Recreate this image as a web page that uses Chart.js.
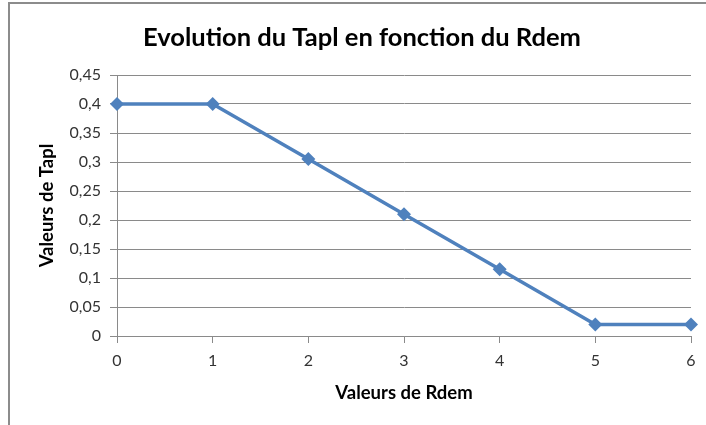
<!DOCTYPE html>
<html>
<head>
<meta charset="utf-8">
<script src="https://cdn.jsdelivr.net/npm/chart.js@4/dist/chart.umd.min.js"></script>
<style>
html,body{margin:0;padding:0;background:#fff;overflow:hidden;}
#wrap{position:relative;width:706px;height:425px;overflow:hidden;}
#frame{position:absolute;left:8px;top:2px;width:740px;height:460px;border-top:2px solid #8c8c8c;border-left:2px solid #8c8c8c;}
canvas{position:absolute;left:0;top:0;}
</style>
</head>
<body>
<div id="wrap">
<div id="frame"></div>
<canvas id="c" width="706" height="425"></canvas>
</div>
<script>
const chartTitle = "Evolution du Tapl en fonction du Rdem";
const xAxisTitle = "Valeurs de Rdem";
const yAxisTitle = "Valeurs de Tapl";
const rdemValues = [0, 1, 2, 3, 4, 5, 6];
const taplValues = [0.4, 0.4, 0.305, 0.21, 0.115, 0.02, 0.02];
const yTickValues = [0, 0.05, 0.1, 0.15, 0.2, 0.25, 0.3, 0.35, 0.4, 0.45];
const xTickValues = [0, 1, 2, 3, 4, 5, 6];

const points = rdemValues.map((x, i) => ({x: x, y: taplValues[i]}));
const fmt = v => String(Math.round(v * 100) / 100).replace('.', ',');
const FONT = "Lato, 'Open Sans', sans-serif";
const GRID = '#8a8a8a';

new Chart(document.getElementById('c'), {
  type: 'scatter',
  data: {
    datasets: [{
      data: points,
      showLine: true,
      borderColor: '#4F81BD',
      backgroundColor: '#4F81BD',
      borderWidth: 3.5,
      pointStyle: 'rectRot',
      pointRadius: 7,
      pointHoverRadius: 7,
      pointBorderWidth: 0,
      tension: 0,
      clip: false
    }]
  },
  options: {
    responsive: false,
    animation: false,
    events: [],
    layout: {padding: {left: 18, right: 0, top: 0, bottom: 0}},
    plugins: {
      legend: {display: false},
      tooltip: {enabled: false},
      title: {
        display: true,
        text: chartTitle,
        color: '#000',
        font: {family: FONT, size: 25.5, weight: 'bold'},
        padding: {top: 22, bottom: 22.4}
      }
    },
    scales: {
      x: {
        type: 'linear',
        min: 0, max: 6,
        afterBuildTicks: s => { s.ticks = xTickValues.map(v => ({value: v})); },
        afterFit: s => { s.height = 89; s.paddingRight = 15; },
        ticks: {
          color: '#333',
          font: {family: FONT, size: 16},
          padding: 8,
          maxRotation: 0,
          callback: v => fmt(v)
        },
        grid: {display: true, drawOnChartArea: false, drawTicks: true, tickLength: 7, color: GRID, lineWidth: 1},
        border: {display: true, color: GRID, width: 1},
        title: {
          display: true,
          text: xAxisTitle,
          color: '#000',
          font: {family: FONT, size: 18.5, weight: 'bold'},
          padding: {top: 0, bottom: 21}
        }
      },
      y: {
        type: 'linear',
        min: 0, max: 0.45,
        afterBuildTicks: s => { s.ticks = yTickValues.map(v => ({value: v})); },
        afterFit: s => { s.width = 99; },
        ticks: {
          color: '#333',
          font: {family: FONT, size: 16},
          padding: 9,
          callback: v => fmt(v)
        },
        grid: {display: true, drawTicks: true, tickLength: 7, color: GRID, lineWidth: 1},
        border: {display: true, color: GRID, width: 1},
        title: {
          display: true,
          text: yAxisTitle,
          color: '#000',
          font: {family: FONT, size: 18.5, weight: 'bold'},
          padding: {top: 18, bottom: 0}
        }
      }
    }
  }
});
</script>
</body>
</html>
